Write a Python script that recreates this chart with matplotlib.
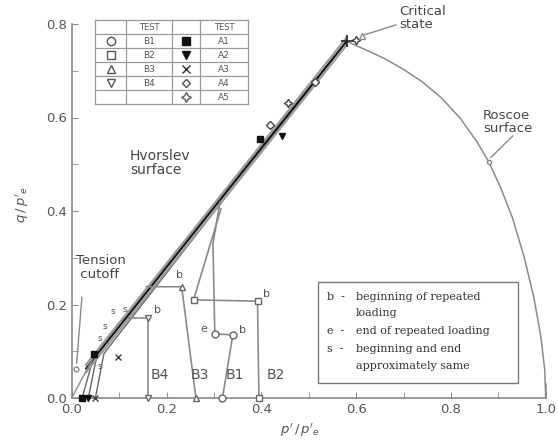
import matplotlib
matplotlib.use("Agg")
import matplotlib.pyplot as plt
from matplotlib.lines import Line2D
from matplotlib.patches import Rectangle

# ---- data (normalised stresses p'/p'e, q/p'e) ----
roscoe_p = [0.58, 0.62, 0.66, 0.70, 0.74, 0.78, 0.82, 0.855, 0.88, 0.905,
            0.93, 0.955, 0.975, 0.99, 0.998, 1.0]
roscoe_q = [0.763, 0.745, 0.726, 0.703, 0.676, 0.642, 0.598, 0.548, 0.505, 0.450,
            0.385, 0.300, 0.215, 0.130, 0.060, 0.0]

hvorslev_p = [0.03, 0.58]
hvorslev_q = [0.063, 0.763]

tension_p = [0.0, 0.045]
tension_q = [0.0, 0.085]

critical_p = 0.58
critical_q = 0.763

# drained stress paths of the B tests
b1_p = [0.318, 0.340, 0.302, 0.298, 0.313]
b1_q = [0.0, 0.135, 0.137, 0.33, 0.42]
b2_p = [0.395, 0.392, 0.257, 0.315]
b2_q = [0.0, 0.207, 0.210, 0.405]
b3_p = [0.262, 0.232, 0.158]
b3_q = [0.0, 0.238, 0.238]
b4_p = [0.162, 0.162, 0.120]
b4_q = [0.0, 0.171, 0.171]

# stress paths of the A tests (start on q = 0, run up to the critical state)
a1_p = [0.022, 0.046, 0.58]
a1_q = [0.0, 0.087, 0.763]
a2_p = [0.035, 0.056, 0.58]
a2_q = [0.0, 0.105, 0.763]
a3_p = [0.050, 0.068, 0.58]
a3_q = [0.0, 0.095, 0.763]

# marker positions along the paths
a1_mark_p = [0.022, 0.046, 0.397]
a1_mark_q = [0.0, 0.095, 0.555]
a2_mark_p = [0.035, 0.443]
a2_mark_q = [0.0, 0.560]
a3_mark_p = [0.098, 0.05]
a3_mark_q = [0.088, 0.0]
a4_mark_p = [0.418, 0.513]
a4_mark_q = [0.585, 0.677]
a5_mark_p = [0.457, 0.60]
a5_mark_q = [0.632, 0.765]

s_p = [0.06, 0.07, 0.087, 0.112, 0.060]
s_q = [0.128, 0.153, 0.185, 0.190, 0.067]

b_labels = ["B4", "B3", "B1", "B2"]
b_label_p = [0.185, 0.27, 0.345, 0.43]

legend_left = ["B1", "B2", "B3", "B4"]
legend_right = ["A1", "A2", "A3", "A4", "A5"]

key_marks = ["b  -", "", "e  -", "s  -", ""]
key_texts = ["beginning of repeated", "loading", "end of repeated loading",
             "beginning and end", "approximately same"]

GREY = "#8a8a8a"

W, H = 558, 446
fig = plt.figure(figsize=(W / 100, H / 100), dpi=100)
ax = fig.add_axes([71.7 / W, 1 - 398 / H, (545.7 - 71.7) / W, (398 - 24) / H])


def fx(x):
    return x / W


def fy(y):
    return 1 - y / H


ax.set_xlim(0, 1.0)
ax.set_ylim(0, 0.8)
for side in ("top", "right"):
    ax.spines[side].set_visible(False)
for side in ("left", "bottom"):
    ax.spines[side].set_color(GREY)
    ax.spines[side].set_linewidth(1.2)
ax.set_xticks([0.0, 0.2, 0.4, 0.6, 0.8, 1.0])
ax.set_xticks([0.1, 0.3, 0.5, 0.7, 0.9], minor=True)
ax.set_yticks([0.0, 0.2, 0.4, 0.6, 0.8])
ax.set_yticks([0.1, 0.3, 0.5, 0.7], minor=True)
ax.tick_params(which="both", direction="in", colors=GREY, labelcolor="#555555",
               labelsize=9.5, length=4)
ax.xaxis.set_major_formatter(matplotlib.ticker.FormatStrFormatter("%.1f"))
ax.yaxis.set_major_formatter(matplotlib.ticker.FormatStrFormatter("%.1f"))

fig.text(fx(300), fy(430), r"$p'\,/\,p'_e$", ha="center", va="center",
         fontsize=9.5, color="#555555")
fig.text(fx(22), fy(205), r"$q\,/\,p'_e$", rotation=90, ha="center", va="center",
         fontsize=9.5, color="#555555")

# Roscoe surface
ax.plot(roscoe_p, roscoe_q, color=GREY, lw=1.1, clip_on=False)
ax.plot([1.0, 1.0], [0.0, 0.03], color=GREY, lw=1.1, clip_on=False)

# A test paths
for pp, qq in ((a1_p, a1_q), (a2_p, a2_q), (a3_p, a3_q)):
    ax.plot(pp, qq, color="#666666", lw=1.0, clip_on=False)

# Hvorslev surface band
ax.plot(hvorslev_p, [q + 0.008 for q in hvorslev_q], color="#9a9a9a", lw=1.6)
ax.plot(hvorslev_p, [q - 0.008 for q in hvorslev_q], color="#9a9a9a", lw=1.6)
ax.plot(hvorslev_p, hvorslev_q, color="#111111", lw=1.3)

# tension cut-off
ax.plot(tension_p, tension_q, color=GREY, lw=1.0)

# B test paths
for pp, qq in ((b1_p, b1_q), (b2_p, b2_q), (b3_p, b3_q), (b4_p, b4_q)):
    ax.plot(pp, qq, color=GREY, lw=1.2, clip_on=False)

mk = dict(clip_on=False, zorder=5, linestyle="none")
ax.plot(b1_p[:3], b1_q[:3], marker="o", ms=5, mfc="white", mec="#666666", **mk)
ax.plot(b2_p[:3], b2_q[:3], marker="s", ms=5, mfc="white", mec="#666666", **mk)
ax.plot(b3_p[:2], b3_q[:2], marker="^", ms=5, mfc="white", mec="#666666", **mk)
ax.plot(b4_p[:2], b4_q[:2], marker="v", ms=5, mfc="white", mec="#666666", **mk)
ax.plot(a1_mark_p, a1_mark_q, marker="s", ms=5, color="#111111", **mk)
ax.plot(a2_mark_p, a2_mark_q, marker="v", ms=5, color="#111111", **mk)
ax.plot(a3_mark_p, a3_mark_q, marker="x", ms=4, color="#444444", **mk)
ax.plot(a4_mark_p, a4_mark_q, marker="D", ms=4, mfc="white", mec="#444444", **mk)
ax.plot(a5_mark_p, a5_mark_q, marker=(4, 1, 0), ms=6, mfc="white", mec="#444444", **mk)
ax.plot([critical_p], [critical_q], marker="+", ms=8, color="#222222", mew=1.2, **mk)

for sp, sq in zip(s_p, s_q):
    ax.text(sp, sq, "s", fontsize=6.5, color="#555555", ha="center", va="center")

# b / e labels on the B paths
ax.text(b4_p[1] + 0.012, b4_q[1] + 0.01, "b", fontsize=8, color="#555555")
ax.text(b3_p[1] - 0.012, b3_q[1] + 0.018, "b", fontsize=8, color="#555555")
ax.text(b1_p[1] + 0.012, b1_q[1] + 0.004, "b", fontsize=8, color="#555555")
ax.text(b1_p[2] - 0.03, b1_q[2] + 0.004, "e", fontsize=8, color="#555555")
ax.text(b2_p[1] + 0.012, b2_q[1] + 0.01, "b", fontsize=8, color="#555555")

for lab, lp in zip(b_labels, b_label_p):
    ax.text(lp, 0.05, lab, fontsize=10, color="#555555", ha="center", va="center")

# pointers for the surface names
ax.annotate("", xy=(0.01, 0.068), xytext=(0.022, 0.222),
            arrowprops=dict(arrowstyle="-", color=GREY, lw=1.0))
ax.plot([0.01], [0.062], marker="o", ms=3.5, mfc="white", mec=GREY, **mk)
ax.annotate("", xy=(0.612, 0.775), xytext=(0.69, 0.80),
            arrowprops=dict(arrowstyle="-", color=GREY, lw=1.0), annotation_clip=False)
ax.plot([0.612], [0.775], marker="^", ms=4, mfc="white", mec=GREY, **mk)
ax.annotate("", xy=(0.88, 0.51), xytext=(0.935, 0.565),
            arrowprops=dict(arrowstyle="-", color=GREY, lw=1.0))
ax.plot([0.88], [0.505], marker="o", ms=3, mfc="white", mec=GREY, **mk)

fig.text(fx(76), fy(267), "Tension\n cutoff", fontsize=9.5, color="#444444",
         ha="left", va="center", linespacing=1.1)
fig.text(fx(130), fy(163), "Hvorslev\nsurface", fontsize=10, color="#444444",
         ha="left", va="center", linespacing=1.05)
fig.text(fx(399), fy(18), "Critical\nstate", fontsize=9.5, color="#444444",
         ha="left", va="center", linespacing=1.05)
fig.text(fx(483), fy(122), "Roscoe\nsurface", fontsize=9.5, color="#444444",
         ha="left", va="center", linespacing=1.05)

# symbol table
col_x = [95, 126, 172, 200, 248]
row_y = [20, 34, 48, 62, 76, 90, 104]
for x in col_x:
    fig.add_artist(Line2D([fx(x), fx(x)], [fy(row_y[0]), fy(row_y[-1])],
                          color="#9a9a9a", lw=0.9))
for y in row_y:
    fig.add_artist(Line2D([fx(col_x[0]), fx(col_x[-1])], [fy(y), fy(y)],
                          color="#9a9a9a", lw=0.9))


def cell_center(ci, ri):
    return (fx((col_x[ci] + col_x[ci + 1]) / 2), fy((row_y[ri] + row_y[ri + 1]) / 2))


for ci in (1, 3):
    cx, cy = cell_center(ci, 0)
    fig.text(cx, cy, "TEST", fontsize=6, color="#555555", ha="center", va="center")
for ri, lab in enumerate(legend_left, start=1):
    cx, cy = cell_center(1, ri)
    fig.text(cx, cy, lab, fontsize=6.5, color="#555555", ha="center", va="center")
for ri, lab in enumerate(legend_right, start=1):
    cx, cy = cell_center(3, ri)
    fig.text(cx, cy, lab, fontsize=6.5, color="#555555", ha="center", va="center")

left_symbols = [dict(marker="o", mfc="white", mec="#555555"),
                dict(marker="s", mfc="white", mec="#555555"),
                dict(marker="^", mfc="white", mec="#555555"),
                dict(marker="v", mfc="white", mec="#555555")]
right_symbols = [dict(marker="s", mfc="#111111", mec="#111111"),
                 dict(marker="v", mfc="#111111", mec="#111111"),
                 dict(marker="x", mfc="#333333", mec="#333333"),
                 dict(marker="D", mfc="white", mec="#555555", ms=4),
                 dict(marker=(4, 1, 0), mfc="white", mec="#555555", ms=7)]
for ri, sym in enumerate(left_symbols, start=1):
    cx, cy = cell_center(0, ri)
    kw = dict(ms=6)
    kw.update(sym)
    fig.add_artist(Line2D([cx], [cy], linestyle="none", **kw))
for ri, sym in enumerate(right_symbols, start=1):
    cx, cy = cell_center(2, ri)
    kw = dict(ms=6)
    kw.update(sym)
    fig.add_artist(Line2D([cx], [cy], linestyle="none", **kw))

# key to the path labels
fig.add_artist(Rectangle((fx(318), fy(383)), fx(518) - fx(318), fy(282) - fy(383),
                         transform=fig.transFigure, fc="white", ec="#777777", lw=1.0))
key_rows = [297, 313, 331, 349, 366]
for ky, km, kt in zip(key_rows, key_marks, key_texts):
    if km:
        fig.text(fx(327), fy(ky), km, fontsize=8, family="DejaVu Serif",
                 color="#333333", ha="left", va="center")
    fig.text(fx(356), fy(ky), kt, fontsize=8, family="DejaVu Serif",
             color="#333333", ha="left", va="center")

fig.savefig("out.png", dpi=100)
